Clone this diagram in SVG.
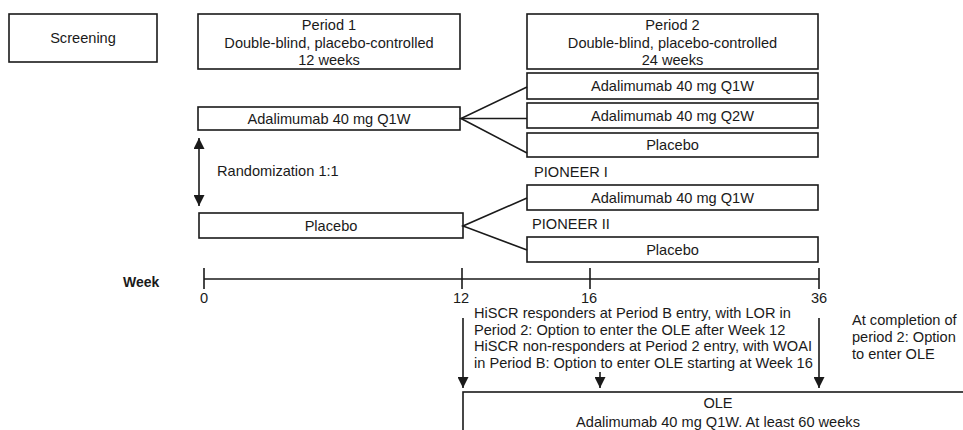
<svg xmlns="http://www.w3.org/2000/svg" width="963" height="430" viewBox="0 0 963 430">
<style>
  .box { fill: #fff; stroke: #1a1a1a; stroke-width: 1.6; }
  .t { font-family: "Liberation Sans", Arial, sans-serif; font-size: 14.6px; fill: #1a1a1a; }
  .c { text-anchor: middle; }
  .b { font-weight: bold; font-size: 14px; }
  .ln { stroke: #1a1a1a; stroke-width: 1.6; fill: none; }
  .ar { stroke: #1a1a1a; stroke-width: 1.6; fill: none; marker-end: url(#ah); }
</style>
<defs>
  <marker id="ah" markerUnits="userSpaceOnUse" markerWidth="11" markerHeight="11" viewBox="0 0 10 10" refX="10" refY="5" orient="auto">
    <path d="M0,0 L10,5 L0,10 Z" fill="#1a1a1a"/>
  </marker>
  <marker id="ahs" markerUnits="userSpaceOnUse" markerWidth="11" markerHeight="11" viewBox="0 0 10 10" refX="0" refY="5" orient="auto">
    <path d="M10,0 L0,5 L10,10 Z" fill="#1a1a1a"/>
  </marker>
</defs>
<rect width="963" height="430" fill="#fff"/>

<g id="screening">
  <rect class="box" x="9" y="14" width="148" height="48"/>
  <text class="t c" x="83" y="43">Screening</text>
</g>
<g id="period1">
  <rect class="box" x="198" y="14" width="262" height="55"/>
  <text class="t c" x="329" y="30">Period 1</text>
  <text class="t c" x="329" y="48">Double-blind, placebo-controlled</text>
  <text class="t c" x="329" y="65">12 weeks</text>
</g>
<g id="period2">
  <rect class="box" x="527" y="14" width="291" height="55"/>
  <text class="t c" x="672.5" y="30">Period 2</text>
  <text class="t c" x="672.5" y="48">Double-blind, placebo-controlled</text>
  <text class="t c" x="672.5" y="65">24 weeks</text>
</g>
<g id="p1-adalimumab">
  <rect class="box" x="198" y="107" width="262" height="23"/>
  <text class="t c" x="329" y="123.5">Adalimumab 40 mg Q1W</text>
</g>
<g id="p1-placebo">
  <rect class="box" x="199" y="213" width="264" height="25"/>
  <text class="t c" x="331" y="230.5">Placebo</text>
</g>
<g id="p2-ada-q1w-a">
  <rect class="box" x="527" y="73" width="291" height="26"/>
  <text class="t c" x="672.5" y="91">Adalimumab 40 mg Q1W</text>
</g>
<g id="p2-ada-q2w">
  <rect class="box" x="527" y="103" width="291" height="25"/>
  <text class="t c" x="672.5" y="120.5">Adalimumab 40 mg Q2W</text>
</g>
<g id="p2-placebo-a">
  <rect class="box" x="527" y="133" width="291" height="24"/>
  <text class="t c" x="672.5" y="150">Placebo</text>
</g>
<g id="pioneer1">
  <text class="t" x="534" y="177">PIONEER I</text>
</g>
<g id="p2-ada-q1w-b">
  <rect class="box" x="527" y="185" width="291" height="25"/>
  <text class="t c" x="672.5" y="202.5">Adalimumab 40 mg Q1W</text>
</g>
<g id="pioneer2">
  <text class="t" x="532" y="229">PIONEER II</text>
</g>
<g id="p2-placebo-b">
  <rect class="box" x="527" y="237" width="291" height="25"/>
  <text class="t c" x="672.5" y="254.5">Placebo</text>
</g>
<g id="randomization">
  <text class="t" x="217" y="176">Randomization 1:1</text>
</g>
<g id="week-axis-labels">
  <text class="t b" x="123" y="287">Week</text>
  <text class="t c" x="204" y="303">0</text>
  <text class="t c" x="461" y="303">12</text>
  <text class="t c" x="589" y="303">16</text>
  <text class="t c" x="819" y="303">36</text>
</g>
<g id="ole-note">
  <text class="t" x="474" y="318">HiSCR responders at Period B entry, with LOR in</text>
  <text class="t" x="474" y="335">Period 2: Option to enter the OLE after Week 12</text>
  <text class="t" x="474" y="351">HiSCR non-responders at Period 2 entry, with WOAI</text>
  <text class="t" x="474" y="368">in Period B: Option to enter OLE starting at Week 16</text>
</g>
<g id="completion-note">
  <text class="t" x="852" y="325">At completion of</text>
  <text class="t" x="852" y="342">period 2: Option</text>
  <text class="t" x="852" y="359">to enter OLE</text>
</g>
<g id="ole">
  <rect class="box" x="463" y="392" width="510" height="50"/>
  <text class="t c" x="718" y="408">OLE</text>
  <text class="t c" x="718" y="427">Adalimumab 40 mg Q1W. At least 60 weeks</text>
</g>

<g id="connectors">
  <polyline class="ln" points="527,87 461,118.5 527,153"/>
  <line class="ln" x1="461" y1="118.5" x2="527" y2="118.5"/>
  <polyline class="ln" points="527,198 463,226 527,250"/>
  <line class="ln" x1="199" y1="138" x2="199" y2="206" marker-start="url(#ahs)" marker-end="url(#ah)"/>
  <line class="ln" x1="204" y1="279" x2="819" y2="279"/>
  <line class="ln" x1="204" y1="268" x2="204" y2="289"/>
  <line class="ln" x1="462" y1="268" x2="462" y2="289"/>
  <line class="ln" x1="590" y1="268" x2="590" y2="289"/>
  <line class="ln" x1="819" y1="268" x2="819" y2="289"/>
  <line class="ar" x1="463" y1="318" x2="463" y2="388"/>
  <line class="ar" x1="600" y1="372" x2="600" y2="388"/>
  <line class="ar" x1="819" y1="318" x2="819" y2="388"/>
</g>
</svg>
